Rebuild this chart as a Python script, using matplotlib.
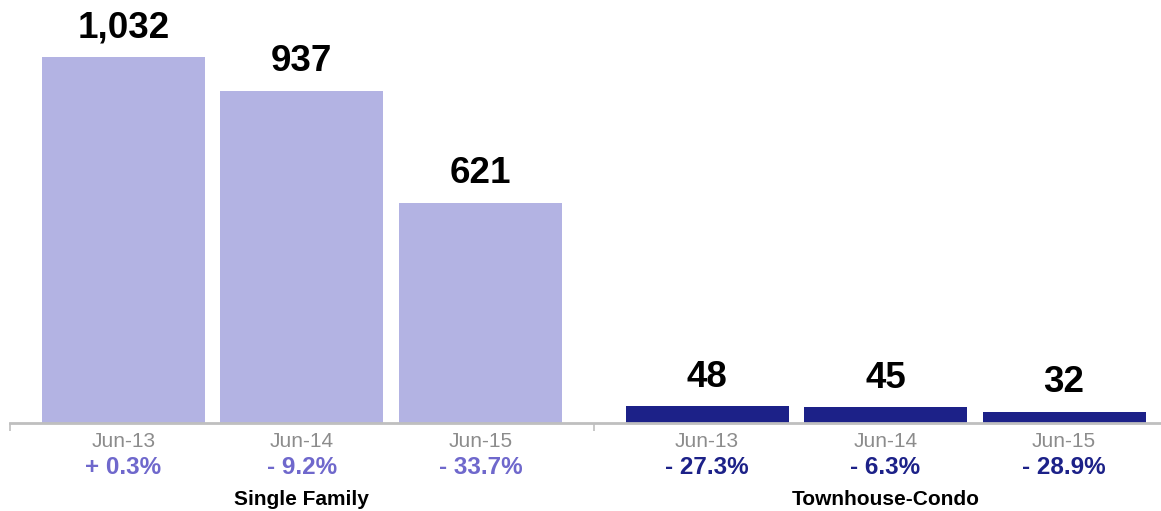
import matplotlib

matplotlib.use("Agg")
import matplotlib.pyplot as plt
import numpy as np

plt.rcParams["font.family"] = ["Liberation Sans", "DejaVu Sans"]

groups = ["Single Family", "Townhouse-Condo"]
periods = ["Jun-13", "Jun-14", "Jun-15"]
single_family = [1032, 937, 621]
townhouse_condo = [48, 45, 32]
sf_change = ["+ 0.3%", "- 9.2%", "- 33.7%"]
tc_change = ["- 27.3%", "- 6.3%", "- 28.9%"]

bar_colors = ["#b3b3e3", "#1c2188"]
pct_colors = ["#6f68cc", "#1c2188"]

GAP = 0.27
WIDTH = 0.913

fig = plt.figure(figsize=(11.61, 5.11), dpi=100)
ax = fig.add_axes([10 / 1161, 88 / 511, 1151 / 1161, 423 / 511])

series = [single_family, townhouse_condo]
changes = [sf_change, tc_change]
boundaries = []
for g, (vals, chg) in enumerate(zip(series, changes)):
    x = np.arange(len(vals)) + g * (len(vals) + GAP)
    boundaries.append(x[0] - (1 + GAP) / 2)
    ax.bar(x, vals, width=WIDTH, color=bar_colors[g], zorder=2)
    for xi, v, p, lab in zip(x, vals, chg, periods):
        ax.annotate(f"{v:,}", (xi, v), xytext=(0, 14), textcoords="offset points",
                    ha="center", va="baseline", fontsize=26.5, fontweight="bold")
        ax.annotate(lab, (xi, 0), xycoords=("data", "axes fraction"), xytext=(0, -13),
                    textcoords="offset points", ha="center", va="center",
                    fontsize=15, color="#8c8c8c")
        ax.annotate(p, (xi, 0), xycoords=("data", "axes fraction"), xytext=(0, -32),
                    textcoords="offset points", ha="center", va="center",
                    fontsize=17.5, fontweight="bold", color=pct_colors[g])
    ax.annotate(groups[g], (x.mean(), 0), xycoords=("data", "axes fraction"),
                xytext=(0, -55), textcoords="offset points", ha="center", va="center",
                fontsize=15, fontweight="bold")

ax.set_xlim(boundaries[0], boundaries[0] + 1151 / 178.5)
ax.set_ylim(0, 423 / 0.3547)
ax.set_xticks(boundaries)
ax.set_xticklabels([])
ax.tick_params(axis="x", direction="out", length=6, width=1.2, color="#bfbfbf")
ax.set_yticks([])
for s in ["top", "right", "left"]:
    ax.spines[s].set_visible(False)
ax.spines["bottom"].set_color("#bfbfbf")
ax.spines["bottom"].set_linewidth(2)

fig.savefig("out.png", dpi=100)
